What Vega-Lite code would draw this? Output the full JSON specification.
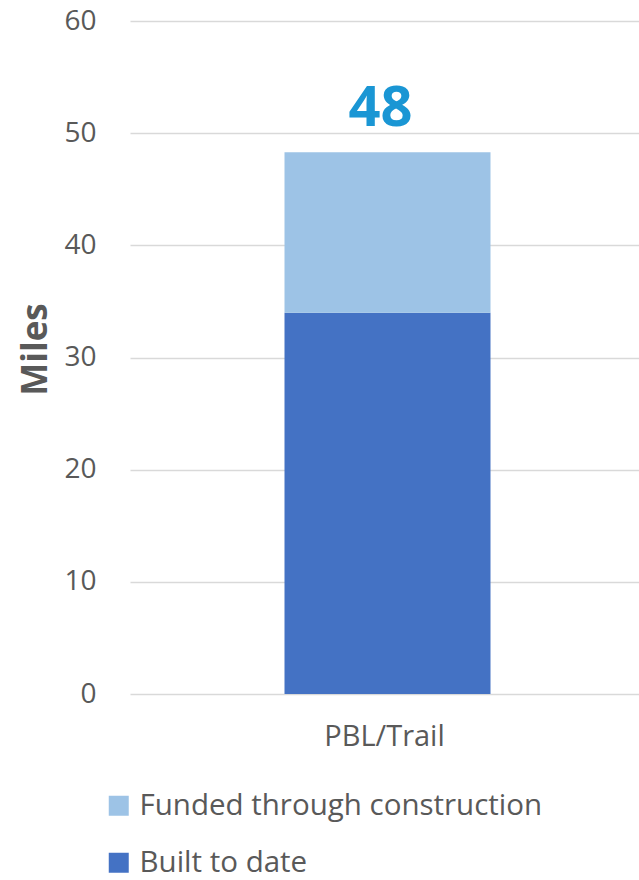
{
  "$schema": "https://vega.github.io/schema/vega-lite/v6.json",
  "autosize": "none",
  "width": 509,
  "height": 673,
  "padding": {"left": 130, "top": 21, "right": 0, "bottom": 186},
  "background": "white",
  "config": {
    "view": {"stroke": null},
    "font": "Open Sans"
  },
  "data": {
    "values": [
      {"category": "PBL/Trail", "series": "Built to date", "miles": 34.0},
      {"category": "PBL/Trail", "series": "Funded through construction", "miles": 14.3}
    ]
  },
  "layer": [
    {
      "mark": {"type": "bar", "size": 206, "xOffset": 3},
      "encoding": {
        "x": {
          "field": "category",
          "type": "nominal",
          "axis": {
            "title": null,
            "labelAngle": 0,
            "domain": false,
            "ticks": false,
            "labelFontSize": 29,
            "labelColor": "#595959",
            "labelPadding": 28,
            "labelFont": "Open Sans"
          }
        },
        "y": {
          "field": "miles",
          "type": "quantitative",
          "stack": "zero",
          "scale": {"domain": [0, 60]},
          "axis": {
            "values": [0, 10, 20, 30, 40, 50, 60],
            "title": "Miles",
            "titleFontSize": 35,
            "titleFontWeight": "bold",
            "titleColor": "#595959",
            "titleFont": "Open Sans",
            "titleX": -95,
            "titleY": 328,
            "titleAngle": -90,
            "titleAlign": "center",
            "titleBaseline": "middle",
            "domain": false,
            "ticks": false,
            "labelFontSize": 28,
            "labelColor": "#595959",
            "labelPadding": 34,
            "labelFont": "Open Sans",
            "gridColor": "#D9D9D9",
            "gridWidth": 1.5
          }
        },
        "color": {
          "field": "series",
          "type": "nominal",
          "scale": {
            "domain": ["Funded through construction", "Built to date"],
            "range": ["#9DC3E6", "#4472C4"]
          },
          "legend": {
            "title": null,
            "orient": "none",
            "legendX": -26,
            "legendY": 770,
            "direction": "vertical",
            "symbolType": "square",
            "symbolSize": 400,
            "symbolStrokeWidth": 0,
            "labelFontSize": 29.5,
            "labelColor": "#595959",
            "labelFont": "Open Sans",
            "labelOffset": 6,
            "labelLimit": 0,
            "rowPadding": 26
          }
        },
        "order": {"field": "series", "sort": "ascending"}
      }
    },
    {
      "transform": [
        {"aggregate": [{"op": "sum", "field": "miles", "as": "total"}], "groupby": ["category"]}
      ],
      "mark": {
        "type": "text",
        "font": "Open Sans",
        "fontWeight": "bold",
        "fontSize": 56,
        "color": "#1A96D4",
        "baseline": "middle",
        "dy": -43,
        "dx": -4
      },
      "encoding": {
        "x": {"field": "category", "type": "nominal"},
        "y": {"field": "total", "type": "quantitative"},
        "text": {"field": "total", "type": "quantitative", "format": ".0f"}
      }
    }
  ]
}
